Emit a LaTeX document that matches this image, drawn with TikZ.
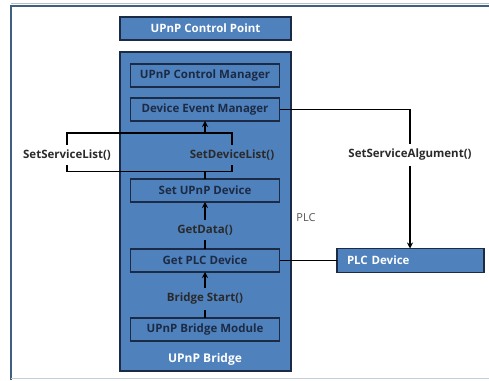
\documentclass[tikz,border=0pt]{standalone}
\usepackage{fontspec}
\setmainfont{Open Sans}
\usetikzlibrary{positioning}
\usetikzlibrary{arrows.meta}

\definecolor{boxblue}{HTML}{4F81BD}
\definecolor{boxline}{HTML}{1C2B45}
\definecolor{frameblue}{HTML}{3F5F7F}
\definecolor{labelgray}{HTML}{2A2A2A}

\tikzset{
  bluebox/.style={draw=boxline, line width=1.4pt, fill=boxblue, inner sep=0pt, outer sep=0pt},
  modbox/.style={bluebox, minimum width=149pt, minimum height=23pt,
    font=\fontsize{11.5}{12}\selectfont\bfseries, text=boxline},
  callname/.style={inner xsep=1pt, inner ysep=5pt, font=\fontsize{11.5}{12}\selectfont\bfseries, text=labelgray},
  link/.style={line width=1.3pt, draw=black},
  arr/.style={link, -{Stealth[length=6pt,width=6pt]}},
}

\begin{document}
\begin{tikzpicture}[x=1pt,y=-1pt]
        \useasboundingbox (0,0) rectangle (489,380);
        % frame
        \draw[line width=0.8pt, draw=frameblue!40] (11,3.5) -- (489,3.5);
        \draw[line width=2pt, draw=frameblue] (10.5,380) -- (10.5,6) -- (489,6);
        \draw[line width=0.8pt, draw=frameblue!30] (11,378.5) -- (489,378.5);

        % Define nodes
        % control point + bridge
        \node[bluebox, minimum width=171pt, minimum height=23pt, text=white,
              font=\fontsize{11.5}{12}\selectfont\bfseries](cp) at (205.5,28.5){UPnP Control Point}; %
        \node[bluebox, minimum width=171pt, minimum height=319pt](bridge) at (205.5,211.5){}; %
        \node[text=white, font=\fontsize{12}{12}\selectfont\bfseries](bridgename) at (205,359){UPnP Bridge}; %

        % modules in the bridge
        \node[modbox](cm) at (205,75.5){UPnP Control Manager}; %
        \node[modbox, below=11pt of cm](dem){Device Event Manager}; %
        \node[modbox, below=58pt of dem](sud){Set UPnP Device}; %
        \node[modbox, below=47pt of sud](gpd){Get PLC Device}; %
        \node[modbox, below=46pt of gpd](ubm){UPnP Bridge Module}; %

        % PLC side
        \node[bluebox, minimum height=24pt, text width=127pt, inner xsep=10pt, align=left,
              text=white, font=\fontsize{11.5}{12}\selectfont\bfseries](plc) at (410.5,260.5){PLC Device}; %
        \node[text=labelgray!80, font=\fontsize{11}{12}\selectfont](plcname) at (306,218){PLC}; %

        % call labels
        \node[callname](setsl) at (67,155){SetServiceList()}; %
        \node[callname](setdl) at (232,155){SetDeviceList()}; %
        \node[callname](getd) at (205,230){GetData()}; %
        \node[callname](bstart) at (205,299){Bridge Start()}; %
        \node[callname](setsa) at (410,155){SetServiceAlgument()}; %

        \coordinate (brtop) at (205,133);

        % connectors
        \draw[link] (setsl.north) |- (brtop) -| (setdl.north);
        \draw[arr] (brtop) -- (dem.south);
        \draw[link] (setsl.south) -- ++(0,6) -| (setdl.south);
        \draw[link] (sud.north) -- ++(0,-7);
        \draw[arr] (getd.north) -- (sud.south);
        \draw[link] (gpd.north) -- (getd.south);
        \draw[arr] (bstart.north) -- (gpd.south);
        \draw[link] (ubm.north) -- (bstart.south);
        \draw[link] (dem.east) -| (setsa.north);
        \draw[arr] (setsa.south) -- (setsa.south |- plc.north);
        \draw[link] (gpd.east) -- (plc.west);
    \end{tikzpicture}
\end{document}
